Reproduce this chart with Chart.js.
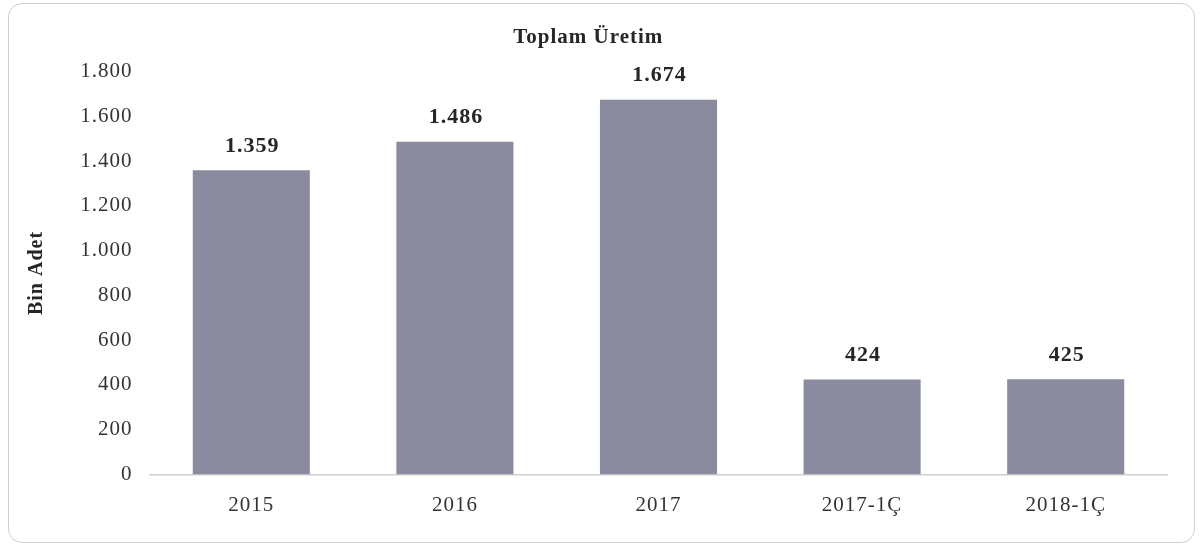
<!DOCTYPE html>
<html lang="tr">
  <head>
    <meta charset="UTF-8" />
    <title>Toplam Üretim</title>
    <script src="https://cdn.jsdelivr.net/npm/chart.js"></script>
    <style>
      html,
      body {
        margin: 0;
        background: #fff;
        font-family: "Liberation Serif", serif;
      }
      #frame {
        position: absolute;
        left: 8px;
        top: 3px;
        width: 1185px;
        height: 538px;
        border: 1.5px solid #cfcfcf;
        border-radius: 14px;
      }
    </style>
  </head>
  <body>
    <div id="frame"><canvas id="chart"></canvas></div>
    <script>
      const categories = ["2015", "2016", "2017", "2017-1Ç", "2018-1Ç"];
      const production = [1359, 1486, 1674, 424, 425];
      const yTicks = [0, 200, 400, 600, 800, 1000, 1200, 1400, 1600, 1800];

      const fmt = (v) => String(v).replace(/\B(?=(\d{3})+(?!\d))/g, ".");

      // the scanned original has rather wide lettering
      const wideText = {
        id: "wideText",
        beforeUpdate(chart) {
          chart.ctx.letterSpacing = "1px";
        },
        beforeDraw(chart) {
          chart.ctx.letterSpacing = "1px";
        },
      };

      // bold value over each bar
      const valueLabels = {
        id: "valueLabels",
        afterDatasetsDraw(chart) {
          const ctx = chart.ctx;
          ctx.save();
          ctx.font = "bold 22px 'Liberation Serif'";
          ctx.fillStyle = "#262626";
          ctx.textAlign = "center";
          ctx.textBaseline = "middle";
          chart.getDatasetMeta(0).data.forEach((bar, i) => {
            ctx.fillText(fmt(production[i]), bar.x + 1, bar.y - 24);
          });
          ctx.restore();
        },
      };

      new Chart(document.getElementById("chart"), {
        type: "bar",
        data: {
          labels: categories,
          datasets: [
            {
              data: production,
              backgroundColor: "#8a8b9f",
              categoryPercentage: 1,
              barPercentage: 0.575,
            },
          ],
        },
        options: {
          responsive: true,
          maintainAspectRatio: false,
          animation: false,
          layout: { padding: { top: 0, right: 26.5, bottom: 0, left: 0 } },
          plugins: {
            legend: { display: false },
            tooltip: { enabled: false },
            title: {
              display: true,
              text: "Toplam Üretim",
              color: "#262626",
              font: { family: "Liberation Serif", size: 21, weight: "bold" },
              padding: { top: 21, bottom: 21.3 },
            },
          },
          scales: {
            x: {
              afterFit: (axis) => {
                axis.height = 67.5;
              },
              grid: { display: false, drawTicks: false },
              border: { color: "#cfcfcf", width: 1.5 },
              ticks: {
                color: "#333",
                padding: 18,
                font: { family: "Liberation Serif", size: 21 },
              },
            },
            y: {
              min: 0,
              max: 1800,
              afterBuildTicks: (axis) => {
                axis.ticks = yTicks.map((v) => ({ value: v }));
              },
              afterFit: (axis) => {
                axis.width = 140.5;
              },
              grid: { display: false, drawTicks: false },
              border: { display: false },
              ticks: {
                color: "#333",
                padding: 17,
                font: { family: "Liberation Serif", size: 21 },
                callback: (v) => fmt(v),
              },
              title: {
                display: true,
                text: "Bin Adet",
                color: "#262626",
                font: { family: "Liberation Serif", size: 20, weight: "bold" },
                padding: { top: 16, bottom: 0 },
              },
            },
          },
        },
        plugins: [wideText, valueLabels],
      });
    </script>
  </body>
</html>
